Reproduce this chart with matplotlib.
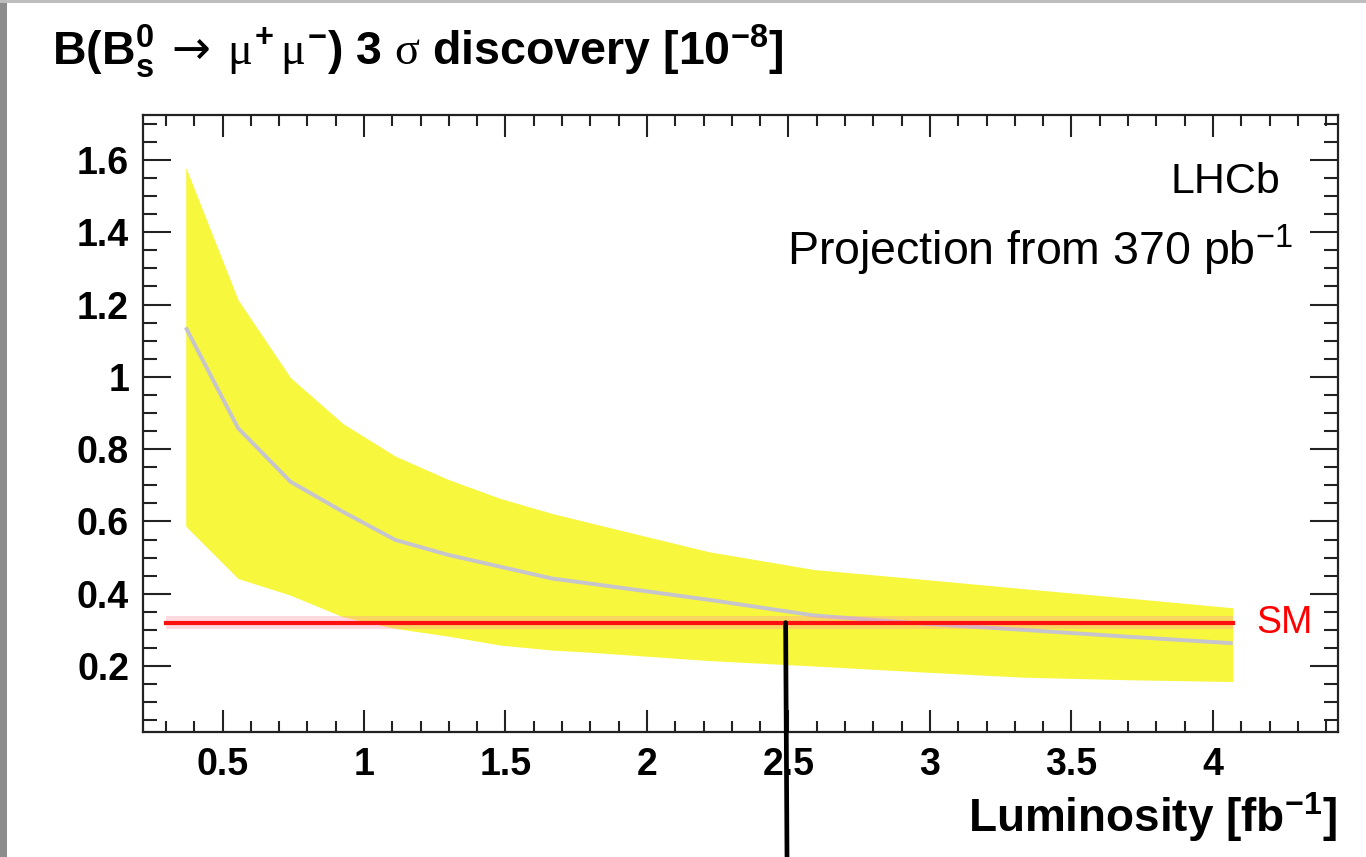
import matplotlib
matplotlib.use("Agg")
import matplotlib.pyplot as plt
from matplotlib.ticker import MultipleLocator, FuncFormatter
from matplotlib.patches import Rectangle

plt.rcParams['font.family'] = ['Liberation Sans', 'DejaVu Sans']
plt.rcParams['mathtext.fontset'] = 'custom'
plt.rcParams['mathtext.rm'] = 'Liberation Sans:bold'
plt.rcParams['mathtext.bf'] = 'Liberation Sans:bold'
plt.rcParams['mathtext.sf'] = 'Liberation Sans'
plt.rcParams['mathtext.it'] = 'Liberation Serif'
plt.rcParams['mathtext.cal'] = 'DejaVu Sans'
plt.rcParams['mathtext.default'] = 'rm'

# ---- data ----
lumi = [0.37, 0.555, 0.74, 0.925, 1.11, 1.295, 1.48, 1.665, 1.80, 2.22, 2.59, 2.96, 3.33, 3.70, 4.07]
central = [1.137, 0.858, 0.710, 0.627, 0.549, 0.508, 0.475, 0.442, 0.428, 0.383, 0.340, 0.318, 0.300, 0.281, 0.263]
upper = [1.580, 1.213, 0.998, 0.871, 0.781, 0.717, 0.664, 0.622, 0.596, 0.516, 0.467, 0.441, 0.414, 0.388, 0.361]
lower = [0.587, 0.442, 0.396, 0.336, 0.304, 0.283, 0.258, 0.244, 0.238, 0.215, 0.200, 0.184, 0.169, 0.162, 0.157]
sm_value = 0.32
sm_err = 0.018
sm_range = [0.30, 4.07]
marker_lumi = 2.49

xticks = [0.5, 1, 1.5, 2, 2.5, 3, 3.5, 4]
yticks = [0.2, 0.4, 0.6, 0.8, 1.0, 1.2, 1.4, 1.6]

W, H = 1366, 857
fig = plt.figure(figsize=(W / 100, H / 100), dpi=100)
fig.patch.set_facecolor('white')

# slide border strips
fig.patches.append(Rectangle((0, 0), 7 / W, 1, transform=fig.transFigure,
                             facecolor='#8c8c8c', edgecolor='none', zorder=0))
fig.patches.append(Rectangle((0, 1 - 3 / H), 1, 3 / H, transform=fig.transFigure,
                             facecolor='#bdbdbd', edgecolor='none', zorder=0))

ax = fig.add_axes([143 / W, 1 - 732 / H, (1338 - 143) / W, (732 - 115) / H])
ax.set_xlim(0.219, 4.442)
ax.set_ylim(0.0174, 1.7245)

ax.fill_between(lumi, lower, upper, color='#f7f73d', linewidth=0, zorder=1)
ax.plot(lumi, central, color='#c6c4cc', lw=2.8, zorder=2, solid_capstyle='butt')

ax.fill_between(sm_range, [sm_value - sm_err] * 2, [sm_value + sm_err] * 2,
                color='#ff9aaa', alpha=0.35, linewidth=0, zorder=3)
ax.plot(sm_range, [sm_value] * 2, color='#ff1010', lw=3.0, zorder=4)
ax.text(4.155, sm_value, 'SM', color='#ff0000', fontsize=27, va='center', ha='left')

ax.text(0.9515, 0.8736, 'LHCb', transform=ax.transAxes, fontsize=31,
        ha='right', va='baseline')
ax.text(0.9623, 0.7569, r'Projection from 370 pb$^{\mathsf{-1}}$', transform=ax.transAxes,
        fontsize=33.5, ha='right', va='baseline')

# hand-drawn marker line
ax.annotate('', xy=(marker_lumi, sm_value), xycoords='data',
            xytext=(787 / W, 0.0), textcoords='figure fraction',
            arrowprops=dict(arrowstyle='-', lw=3.4, color='black',
                            shrinkA=0, shrinkB=0), zorder=10, annotation_clip=False)

ax.xaxis.set_major_locator(MultipleLocator(0.5))
ax.xaxis.set_minor_locator(MultipleLocator(0.1))
ax.yaxis.set_major_locator(MultipleLocator(0.2))
ax.yaxis.set_minor_locator(MultipleLocator(0.05))
ax.set_xticks(xticks)
ax.set_yticks(yticks)
fmt = FuncFormatter(lambda v, p: '%g' % round(v, 3))
ax.xaxis.set_major_formatter(fmt)
ax.yaxis.set_major_formatter(fmt)

ax.tick_params(axis='both', which='both', direction='in', top=True, right=True,
               width=1.5, color='#222222')
ax.tick_params(axis='x', which='major', length=16, pad=11)
ax.tick_params(axis='x', which='minor', length=8)
ax.tick_params(axis='y', which='major', length=20, pad=10)
ax.tick_params(axis='y', which='minor', length=10)
for lab in ax.get_xticklabels() + ax.get_yticklabels():
    lab.set_fontsize(27)
    lab.set_fontweight('bold')
for s in ax.spines.values():
    s.set_linewidth(1.6)
    s.set_color('#222222')

fig.text(52 / W, 1 - 65 / H,
         r'B(B$_{\mathrm{s}}^{\mathrm{0}}\;\mathcal{\rightarrow}\;\mathit{\mu}^{\mathrm{+}}\,\mathit{\mu}^{\mathrm{-}}$) 3 $\mathit{\sigma}$ discovery [10$^{\mathrm{-8}}$]',
         fontsize=33.5, fontweight='bold', ha='left', va='baseline')
fig.text(1337 / W, 1 - 832 / H, r'Luminosity [fb$^{\mathrm{-1}}$]',
         fontsize=33, fontweight='bold', ha='right', va='baseline')

fig.savefig('out.png', dpi=100)
